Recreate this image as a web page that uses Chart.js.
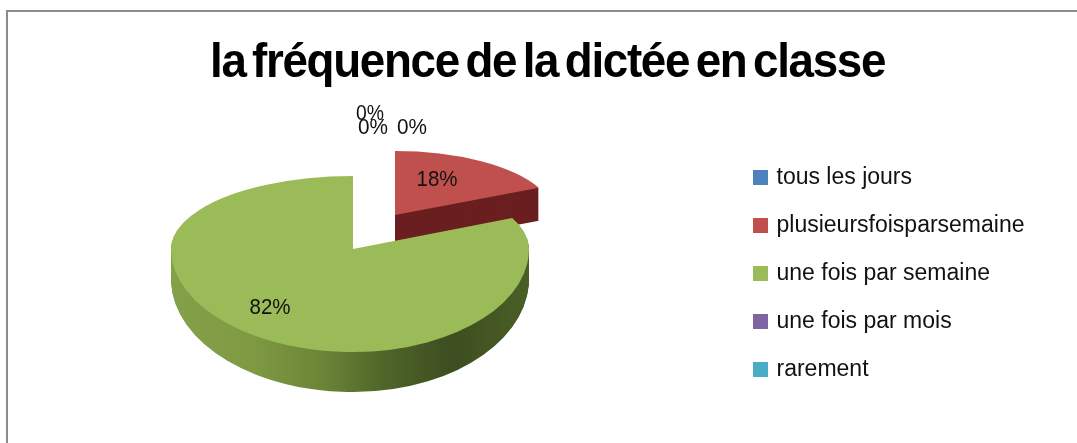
<!DOCTYPE html>
<html><head><meta charset="utf-8">
<script src="https://cdn.jsdelivr.net/npm/chart.js@4"></script>
<style>html,body{margin:0;padding:0;background:#fff;overflow:hidden}canvas{display:block}</style>
</head><body><canvas id="c" width="1077" height="443"></canvas>
<script>
const categories = ["tous les jours","plusieursfoisparsemaine","une fois par semaine","une fois par mois","rarement"];
const values = [0,18,82,0,0];
const percentLabels = ["0%","18%","82%","0%","0%"];
const colors = ["#4f81bd","#c0504d","#9bbb59","#8064a2","#4bacc6"];
const titleText = "la fréquence de la dictée en classe";

// layout constants
const FONT = '"Liberation Sans", Arial, sans-serif';
const labelAnchors = [[370,114],[437,180],[270,308],[373,128],[412,128]];
const labelWidths = [28,41,41,30,30];
const wedge = {
  1:{ax:395,ay:215,rxL:159,rxR:159,up:64,low:64,depth:33,lowGrow:0},
  2:{ax:353,ay:249,rxL:182,rxR:176,up:73,low:103,depth:30,lowGrow:10}
};

function sideFill(ctx, i, el){
  if (i === 1) return "#6b1f20";
  const g = ctx.createLinearGradient(el.x-el.outerRadius,0,el.x+el.outerRadius,0);
  [[0,"#84a049"],[0.22,"#7f9a43"],[0.41,"#6c8537"],[0.59,"#4f6528"],[0.78,"#3d4e20"],[1,"#4a5f26"]]
    .forEach(s=>g.addColorStop(s[0],s[1]));
  return g;
}
function drawAt(ctx, target, el, w, dy, low){
  const R = el.outerRadius, cy = w.ay + dy;
  [[0,w.ax,w.rxL],[w.ax,1077-w.ax,w.rxR]].forEach(([left,wd,rx])=>{
    [[0,cy,w.up],[cy,443-cy,low]].forEach(([top,h,ry])=>{
      ctx.save();
      ctx.beginPath(); ctx.rect(left,top,wd,h); ctx.clip();
      ctx.translate(w.ax,cy);
      ctx.scale(rx/R, ry/R);
      ctx.translate(-el.x,-el.y);
      target.draw(ctx);
      ctx.restore();
    });
  });
}
const pie3d = {
  id:'pie3d',
  afterLayout(chart){
    const t = chart.titleBlock, l = chart.legend;
    t.left = 210; t.right = 885; t.top = 36; t.bottom = 96;
    if(!t._wrapped){
      const d = t.draw;
      t.draw = function(a){ const c=this.ctx; c.save(); c.letterSpacing='-1.4px'; c.wordSpacing='-5px'; d.call(this,a); c.restore(); };
      t._wrapped = true;
    }
    l.left = 731; l.right = 1077; l.top = 141; l.bottom = 442;
  },
  beforeDatasetsDraw(chart){
    const ctx = chart.ctx, arcs = chart.getDatasetMeta(0).data;
    [1,2].forEach(i=>{
      const el = arcs[i], w = wedge[i];
      const ghost = Object.create(el);
      ghost.options = Object.create(el.options,{backgroundColor:{value:sideFill(ctx,i,el)}});
      for(let k=w.depth;k>=1;k--){
        drawAt(ctx,ghost,el,w,k,w.low+w.lowGrow*k/w.depth);
      }
      drawAt(ctx,el,el,w,0,w.low);
    });
    ctx.save();
    ctx.fillStyle="#111"; ctx.font='22px '+FONT; ctx.textAlign='center'; ctx.textBaseline='middle';
    percentLabels.forEach((s,i)=>ctx.fillText(s,labelAnchors[i][0],labelAnchors[i][1],labelWidths[i]));
    ctx.restore();
    return false;
  },
  beforeDraw(chart){
    const c = chart.ctx;
    c.save(); c.fillStyle="#fff"; c.fillRect(0,0,1077,443);
    c.fillStyle="#8c8c8c"; c.fillRect(6,10,1071,2); c.fillRect(6,10,2,433);
    c.restore();
  }
};
new Chart(document.getElementById('c'),{
  type:'pie',
  data:{labels:categories,datasets:[{data:values,backgroundColor:colors,borderWidth:0}]},
  plugins:[pie3d],
  options:{
    responsive:false,animation:false,
    rotation:0,
    layout:{padding:0},
    events:[],
    plugins:{
      tooltip:{enabled:false},
      title:{display:true,text:titleText,color:"#000",padding:0,font:{family:FONT,size:48,weight:'bold',lineHeight:1.15}},
      legend:{position:'right',align:'start',labels:{
        color:"#111",font:{family:FONT,size:23},boxWidth:9,boxHeight:9,padding:25,
        generateLabels(chart){
          return Chart.overrides.pie.plugins.legend.labels.generateLabels(chart)
            .map(it=>Object.assign(it,{lineWidth:6,strokeStyle:it.fillStyle}));
        }
      }}
    }
  }
});
</script></body></html>
